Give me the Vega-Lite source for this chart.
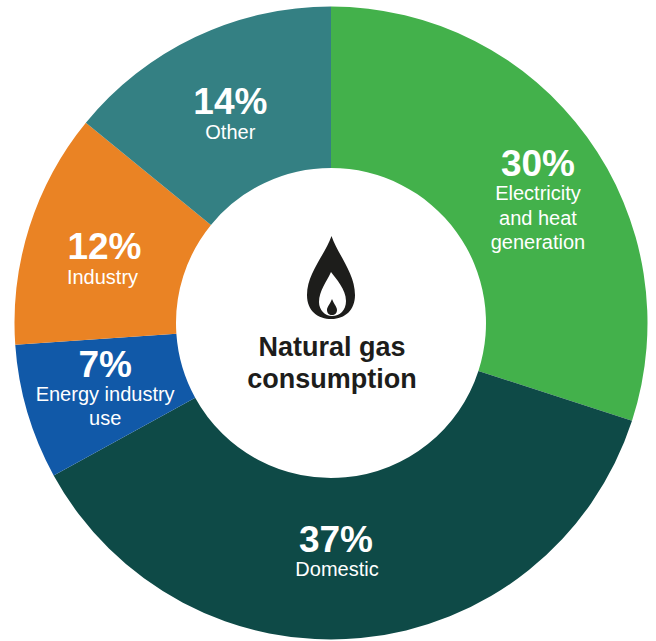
{
"$schema":"https://vega.github.io/schema/vega-lite/v6.json",
"width":650,"height":636,"padding":{"left":6,"top":5,"right":0,"bottom":0},"autosize":"none","background":"white",
"view":{"stroke":null},
"config":{"text":{"font":"Liberation Sans","color":"white","align":"center","baseline":"alphabetic"}},
"data":{"values":[
{"cat":"Electricity and heat generation","order":1,"value":30,"pct":"30%","label":"Electricity\nand heat\ngeneration"},
{"cat":"Domestic","order":2,"value":37,"pct":"37%","label":"Domestic"},
{"cat":"Energy industry use","order":3,"value":6.9,"pct":"7%","label":"Energy industry\nuse"},
{"cat":"Industry","order":4,"value":12,"pct":"12%","label":"Industry"},
{"cat":"Other","order":5,"value":14.1,"pct":"14%","label":"Other"}
]},
"transform":[
{"stack":"value","sort":[{"field":"order"}],"as":["v0","v1"]},
{"calculate":"(datum.v0+datum.v1)/2","as":"mid"}
],
"encoding":{"theta":{"field":"mid","type":"quantitative","stack":null,"scale":{"domain":[0,100]}}},
"layer":[
{"mark":{"type":"arc","outerRadius":316.5,"innerRadius":155},
 "encoding":{"theta":{"field":"v0","type":"quantitative","stack":null,"scale":{"domain":[0,100]}},"theta2":{"field":"v1"},
 "color":{"field":"cat","type":"nominal","legend":null,"scale":{"domain":["Electricity and heat generation","Domestic","Energy industry use","Industry","Other"],"range":["#43B14B","#0E4A47","#1159A8","#EA8324","#348083"]}}}},
{"transform":[{"filter":"datum.order==1"}],"mark":{"type":"text","radius":240,"dx":12.8,"dy":-5.9,"fontSize":37,"fontWeight":"bold"},"encoding":{"text":{"field":"pct"}}},
{"transform":[{"filter":"datum.order==1"}],"mark":{"type":"text","radius":240,"dx":12.8,"dy":18.1,"fontSize":20,"lineBreak":"\n","lineHeight":24.5},"encoding":{"text":{"field":"label"}}},
{"transform":[{"filter":"datum.order==2"}],"mark":{"type":"text","radius":240,"dx":-17.6,"dy":-10,"fontSize":37,"fontWeight":"bold"},"encoding":{"text":{"field":"pct"}}},
{"transform":[{"filter":"datum.order==2"}],"mark":{"type":"text","radius":240,"dx":-16.6,"dy":14,"fontSize":20},"encoding":{"text":{"field":"label"}}},
{"transform":[{"filter":"datum.order==3"}],"mark":{"type":"text","radius":240,"dx":4.4,"dy":-14,"fontSize":37,"fontWeight":"bold"},"encoding":{"text":{"field":"pct"}}},
{"transform":[{"filter":"datum.order==3"}],"mark":{"type":"text","radius":240,"dx":4.4,"dy":10,"fontSize":20,"lineBreak":"\n","lineHeight":24},"encoding":{"text":{"field":"label"}}},
{"transform":[{"filter":"datum.order==4"}],"mark":{"type":"text","radius":240,"dx":2.2,"dy":9.2,"fontSize":37,"fontWeight":"bold"},"encoding":{"text":{"field":"pct"}}},
{"transform":[{"filter":"datum.order==4"}],"mark":{"type":"text","radius":240,"dx":0.2,"dy":34.2,"fontSize":20},"encoding":{"text":{"field":"label"}}},
{"transform":[{"filter":"datum.order==5"}],"mark":{"type":"text","radius":240,"dx":2.2,"dy":8.2,"fontSize":37,"fontWeight":"bold"},"encoding":{"text":{"field":"pct"}}},
{"transform":[{"filter":"datum.order==5"}],"mark":{"type":"text","radius":240,"dx":2.2,"dy":33.2,"fontSize":20},"encoding":{"text":{"field":"label"}}},
{"data":{"values":[{"centre":"Natural gas\nconsumption"}]},
 "mark":{"type":"text","fontSize":27,"fontWeight":"bold","color":"#1d1d1b","lineBreak":"\n","lineHeight":32,"dy":33,"dx":1},
 "encoding":{"theta":null,"text":{"field":"centre"}}},
{"data":{"values":[{"icon":"flame"}]},
 "mark":{"type":"point","filled":true,"opacity":1,"size":4,"color":"#1d1d1b",
 "shape":"M0.5 -87C-6 -68 -24 -50 -24 -28C-24 -12 -13 -4 0.5 -4C14 -4 24 -13 24 -28C24 -50 7 -68 0.5 -87ZM0 -51C5 -44 15 -34 15 -22C15 -13 9 -7 1 -7C-6 -7 -12 -13 -12 -21C-12 -32 -4 -42 0 -51ZM1 -24C-1 -19 -4 -16 -4 -13C-4 -10 -2 -8 1 -8C4 -8 6 -10 6 -13C6 -16 3 -19 1 -24Z"},
 "encoding":{"theta":null}}
]}
